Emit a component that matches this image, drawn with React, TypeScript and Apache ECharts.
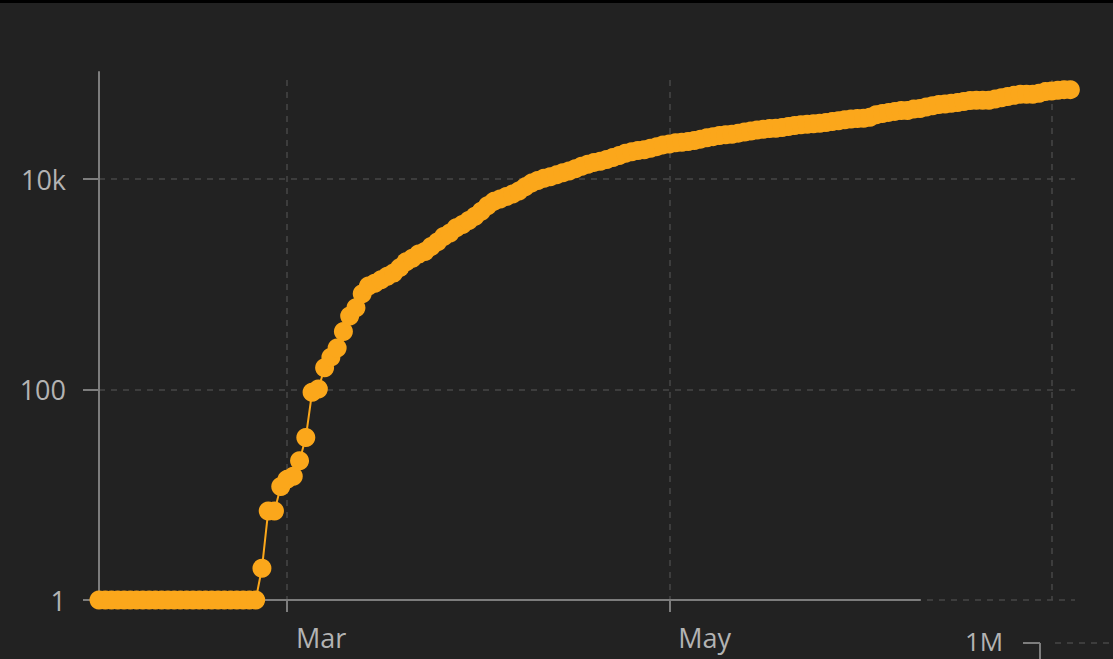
import React, { useEffect, useRef } from 'react';
import * as echarts from 'echarts';

// ---- data ----
const startYear = 2020;
const startMonth = 0; // January
const startDay = 31; // first observation: 31 Jan
const cumulativeCases: number[] = [
  // 31 Jan .. 25 Feb
  1, 1, 1, 1, 1, 1, 1, 1, 1, 1, 1, 1, 1, 1, 1, 1, 1, 1, 1, 1, 1, 1, 1, 1, 1, 1,
  // 26 Feb .. 29 Feb
  2, 7, 7, 12,
  // March
  14, 15, 21, 35, 94, 101, 161, 203, 248, 355, 500, 599, 814, 961, 1022, 1103,
  1190, 1279, 1439, 1639, 1763, 1934, 2046, 2286, 2526, 2840, 3069, 3447, 3700,
  4028, 4435,
  // April
  4947, 5568, 6131, 6443, 6830, 7206, 7693, 8419, 9141, 9685, 10151, 10483,
  10948, 11445, 11927, 12540, 13216, 13822, 14385, 14777, 15322, 16004, 16755,
  17567, 18177, 18640, 18926, 19621, 20302, 21092,
  // May
  21520, 22082, 22317, 22721, 23216, 23918, 24623, 25265, 25921, 26322, 26670,
  27272, 27909, 28582, 29207, 29677, 30143, 30377, 30799, 31523, 32172, 32809,
  33188, 33459, 33843, 34440, 35088, 35727, 36476, 37113, 37542,
  // June
  37814, 38589, 40803, 41883, 42939, 43887, 44730, 44730, 46299, 46814, 48288,
  49684, 50931, 51614, 52383, 53323, 54562, 55672, 56043, 56043, 56043, 57542,
  59060, 60837, 62324, 63890, 63890, 63890, 65137, 67667,
  // 1 Jul .. 4 Jul
  68451, 69692, 70639, 70639,
];
const yTickLabels: Record<string, string> = { '1': '1', '100': '100', '10000': '10k' };
const cornerLabel = '1M';

const DAY = 86400000;
const ORANGE = '#fba71b';
const AXIS_GRAY = '#7d7d7d';
const GRID_GRAY = '#474747';
const LABEL_GRAY = '#b3b3b3';
const FONT = '"Open Sans", "Noto Sans", sans-serif';

export default function App() {
  const ref = useRef<HTMLDivElement>(null);

  useEffect(() => {
    document.body.style.margin = '0';
    document.body.style.background = '#222222';
    if (!ref.current) return;
    const chart = echarts.init(ref.current, undefined, { renderer: 'svg' });

    const t0 = new Date(startYear, startMonth, startDay).getTime();
    const seriesData = cumulativeCases.map((v, i) => [
      new Date(startYear, startMonth, startDay + i).getTime(),
      v,
    ]);
    const jul1 = new Date(startYear, 6, 1).getTime();
    const pxPerDay = 6.267;
    const xLeft = 99;
    const fullRight = 1075;
    const axisRight = 920;
    const julX = xLeft + ((jul1 - t0) / DAY) * pxPerDay;
    const decade = 105.25;

    chart.setOption({
      animation: false,
      backgroundColor: '#222222',
      textStyle: { fontFamily: FONT },
      grid: [
        { left: xLeft, right: 1113 - fullRight, top: 600 - 6 * decade, bottom: 59, outerBoundsMode: 'none', containLabel: false },
        { left: xLeft, right: 1113 - julX, top: 80, bottom: 59, outerBoundsMode: 'none', containLabel: false },
        { left: xLeft, right: 1113 - axisRight, top: 72, bottom: 59, outerBoundsMode: 'none', containLabel: false },
      ],
      xAxis: [
        {
          gridIndex: 0,
          type: 'time',
          min: t0,
          max: t0 + ((fullRight - xLeft) / pxPerDay) * DAY,
          show: false,
        },
        {
          gridIndex: 1,
          type: 'time',
          min: t0,
          max: jul1,
          splitNumber: 2,
          axisLine: { show: false },
          axisTick: { show: false },
          axisLabel: { show: false },
          splitLine: { show: true, lineStyle: { color: GRID_GRAY, type: [6, 6], width: 1.5 } },
        },
        {
          gridIndex: 2,
          type: 'time',
          min: t0,
          max: t0 + ((axisRight - xLeft) / pxPerDay) * DAY,
          splitNumber: 2,
          axisLine: { show: true, lineStyle: { color: AXIS_GRAY, width: 2 } },
          axisTick: { show: true, length: 12, lineStyle: { color: AXIS_GRAY, width: 2 } },
          axisLabel: {
            show: true,
            color: LABEL_GRAY,
            fontSize: 27,
            fontFamily: FONT,
            align: 'left',
            margin: 24,
            padding: [0, 0, 0, 9],
            formatter: '{MMM}',
            showMinLabel: false,
            showMaxLabel: false,
          },
          splitLine: { show: false },
        },
      ],
      yAxis: [
        {
          gridIndex: 0,
          type: 'log',
          logBase: 100,
          min: 1,
          max: 1000000,
          axisLine: { show: false },
          axisTick: { show: true, length: 16, lineStyle: { color: AXIS_GRAY, width: 2 } },
          axisLabel: {
            color: LABEL_GRAY,
            fontSize: 27,
            fontFamily: FONT,
            margin: 33,
            formatter: (v: number) => yTickLabels[String(Math.round(v))] ?? '',
          },
          splitLine: { show: true, lineStyle: { color: GRID_GRAY, type: [6, 6], width: 1.5 } },
        },
        { gridIndex: 1, type: 'log', min: 1, max: 100000, show: false },
        {
          gridIndex: 2,
          type: 'log',
          min: 1,
          max: 100000,
          axisLine: { show: true, lineStyle: { color: AXIS_GRAY, width: 2 } },
          axisTick: { show: false },
          axisLabel: { show: false },
          splitLine: { show: false },
        },
      ],
      series: [
        {
          type: 'line',
          xAxisIndex: 0,
          yAxisIndex: 0,
          data: seriesData,
          symbol: 'circle',
          symbolSize: 19,
          showAllSymbol: true,
          clip: false,
          z: 5,
          lineStyle: { color: ORANGE, width: 2 },
          itemStyle: { color: ORANGE, borderWidth: 0 },
        },
      ],
      graphic: [
        { type: 'rect', shape: { x: 0, y: 0, width: 1113, height: 3 }, style: { fill: '#000' } },
        {
          type: 'text',
          x: 965,
          y: 641,
          style: {
            text: cornerLabel,
            fill: LABEL_GRAY,
            fontSize: 26,
            lineHeight: 24,
            fontFamily: FONT,
            verticalAlign: 'middle',
            align: 'left',
          },
        },
        { type: 'line', shape: { x1: 1023, y1: 643, x2: 1040, y2: 643 }, style: { stroke: AXIS_GRAY, lineWidth: 2 } },
        { type: 'line', shape: { x1: 1040, y1: 643, x2: 1040, y2: 665 }, style: { stroke: AXIS_GRAY, lineWidth: 2 } },
        {
          type: 'line',
          shape: { x1: 1055, y1: 643, x2: 1113, y2: 643 },
          style: { stroke: GRID_GRAY, lineWidth: 1.5, lineDash: [6, 6] },
        },
      ],
    });

    return () => chart.dispose();
  }, []);

  return <div ref={ref} style={{ width: 1113, height: 659 }} />;
}
